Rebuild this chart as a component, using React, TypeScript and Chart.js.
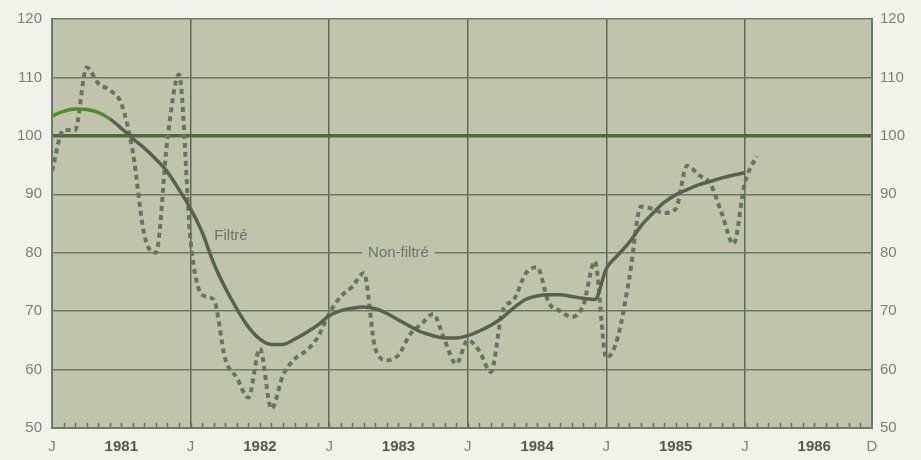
import React, { useEffect, useRef } from "react";
import { Chart, registerables } from "chart.js";

Chart.register(...registerables);

// Months counted from January 1981 (0) to December 1986 (71)
const X_MIN = 0;
const X_MAX = 71;
const START_YEAR = 1981;
const X_TICKS = [0, 6, 12, 18, 24, 30, 36, 42, 48, 54, 60, 66, 71];
const Y_TICKS = [50, 60, 70, 80, 90, 100, 110, 120];

// Non-filtered index, monthly, Jan 1981 .. Feb 1986
const NON_FILTERED = [
  94, 101, 101, 111.7, 109, 107.8, 105.5, 97.2, 83, 80, 99.5, 110.5,
  82, 72.8, 72, 61.8, 58.6, 55.2, 63.6, 53.3, 59, 61.8, 63.2, 65.5,
  69.6, 72.5, 74.2, 76.5, 63.5, 61.6, 62.5, 66, 67.8, 69.5, 65, 61,
  65, 63.2, 59.6, 70, 72, 76.4, 77.5, 71.5, 70, 69, 71, 78.5,
  62, 65.6, 75.8, 87.9, 87.5, 86.8, 87.5, 94.9, 93.3, 91.8, 86.7, 81.5,
  92, 96.5,
];

// Filtered index, monthly, Jan 1981 .. Jan 1986
const FILTERED = [
  103.4, 104.2, 104.6, 104.5, 104.0, 102.9, 101.3, 99.5, 97.9, 96.0, 93.8, 90.8,
  87.5, 83.5, 78.2, 74, 70.4, 67.3, 65.2, 64.3, 64.3, 65.2, 66.3, 67.6,
  69.2, 70.1, 70.5, 70.7, 70.4, 69.6, 68.5, 67.4, 66.4, 65.8, 65.4, 65.4,
  65.8, 66.6, 67.6, 68.9, 70.6, 72.0, 72.6, 72.8, 72.8, 72.5, 72.2, 72.0,
  77.3, 79.6, 81.8, 84.6, 86.7, 88.6, 89.9, 90.8, 91.6, 92.2, 92.8, 93.3,
  93.7,
];

const REFERENCE_LEVEL = 100;
const GREEN_SEGMENT_END = 5; // first months of filtered curve drawn in green

const LABEL_FILTERED = { text: "Filtré", x: 15.5, y: 82.9 };
const LABEL_NON_FILTERED = { text: "Non-filtré", x: 30, y: 80 };

const FONT = "'Liberation Sans', Arial, Helvetica, sans-serif";
const PLOT_BG = "#c1c4ad";
const PAGE_BG = "#f2f2ec";
const GRID = "#6f7a62";
const LABEL_GREY = "#7d7f76";

const toPoints = (arr: number[]) => arr.map((v, i) => ({ x: i, y: v }));

const decoPlugin = {
  id: "deco",
  beforeDraw(chart: any) {
    const { ctx, chartArea } = chart;
    ctx.save();
    ctx.fillStyle = PAGE_BG;
    ctx.fillRect(0, 0, chart.width, chart.height);
    ctx.fillStyle = PLOT_BG;
    ctx.fillRect(chartArea.left, chartArea.top, chartArea.right - chartArea.left, chartArea.bottom - chartArea.top);
    ctx.restore();
  },
  afterDraw(chart: any) {
    const { ctx, chartArea, scales } = chart;
    const xs = scales.x;
    const ys = scales.y;
    ctx.save();
    // monthly minor ticks along the bottom
    ctx.strokeStyle = "#687060";
    ctx.lineWidth = 1.5;
    for (let m = X_MIN + 1; m < X_MAX; m++) {
      const px = Math.round(xs.getPixelForValue(m)) + 0.5;
      ctx.beginPath();
      ctx.moveTo(px, chartArea.bottom);
      ctx.lineTo(px, chartArea.bottom - 5);
      ctx.stroke();
    }
    // series labels
    ctx.font = `15px ${FONT}`;
    ctx.textBaseline = "middle";
    ctx.textAlign = "center";
    const nx = xs.getPixelForValue(LABEL_NON_FILTERED.x);
    const ny = ys.getPixelForValue(LABEL_NON_FILTERED.y);
    const w = ctx.measureText(LABEL_NON_FILTERED.text).width;
    ctx.fillStyle = PLOT_BG;
    ctx.fillRect(nx - w / 2 - 6, ny - 4, w + 12, 8);
    ctx.fillStyle = "#6e7565";
    ctx.fillText(LABEL_NON_FILTERED.text, nx, ny);
    ctx.fillText(
      LABEL_FILTERED.text,
      xs.getPixelForValue(LABEL_FILTERED.x),
      ys.getPixelForValue(LABEL_FILTERED.y)
    );
    ctx.restore();
  },
};

export default function App() {
  const ref = useRef<HTMLCanvasElement | null>(null);

  useEffect(() => {
    if (!ref.current) return;
    const yTickFont = { family: FONT, size: 15 };
    const chart = new Chart(ref.current, {
      type: "line",
      data: {
        datasets: [
          {
            label: "Filtré",
            data: toPoints(FILTERED),
            borderColor: "#5a6150",
            borderWidth: 3.5,
            pointRadius: 0,
            cubicInterpolationMode: "monotone",
            segment: {
              borderColor: (c: any) => (c.p0DataIndex < GREEN_SEGMENT_END ? "#4c8f2b" : undefined),
            },
          } as any,
          {
            label: "Non-filtré",
            data: toPoints(NON_FILTERED),
            borderColor: "#6b735f",
            borderWidth: 4,
            borderDash: [5, 4],
            pointRadius: 0,
            cubicInterpolationMode: "monotone",
          } as any,
        ],
      },
      options: {
        animation: false,
        responsive: false,
        maintainAspectRatio: false,
        layout: { padding: { top: 15, left: 0, right: 0, bottom: 0 } },
        plugins: { legend: { display: false }, tooltip: { enabled: false } },
        scales: {
          x: {
            type: "linear",
            min: X_MIN,
            max: X_MAX,
            afterBuildTicks: (s: any) => {
              s.ticks = X_TICKS.map((v) => ({ value: v }));
            },
            afterFit: (s: any) => {
              s.height = 32;
            },
            ticks: {
              autoSkip: false,
              maxRotation: 0,
              padding: 10,
              callback: (v: any) => {
                const n = Number(v);
                if (n === X_MAX) return "D";
                if (n % 12 === 0) return "J";
                return String(START_YEAR + Math.floor(n / 12));
              },
              font: (c: any) => {
                const v = c.tick ? c.tick.value : 0;
                const isYear = v % 12 === 6;
                return { family: FONT, size: 15, weight: isYear ? "bold" : "normal" } as any;
              },
              color: (c: any) => {
                const v = c.tick ? c.tick.value : 0;
                return v % 12 === 6 ? "#55574f" : LABEL_GREY;
              },
            },
            grid: {
              drawTicks: false,
              lineWidth: 1.5,
              color: (c: any) => {
                const v = c.tick ? c.tick.value : -1;
                return v > X_MIN && v < X_MAX && v % 12 === 0 ? "#62685a" : "rgba(0,0,0,0)";
              },
            },
            border: { display: true, color: GRID, width: 2 },
          },
          y: {
            position: "left",
            min: 50,
            max: 120,
            afterBuildTicks: (s: any) => {
              s.ticks = Y_TICKS.map((v) => ({ value: v }));
            },
            afterFit: (s: any) => {
              s.width = 52;
            },
            ticks: { padding: 10, color: LABEL_GREY, font: yTickFont },
            grid: {
              drawTicks: false,
              color: (c: any) => (c.tick && c.tick.value === REFERENCE_LEVEL ? "#52683d" : GRID),
              lineWidth: (c: any) => (c.tick && c.tick.value === REFERENCE_LEVEL ? 3.5 : 1.5),
            },
            border: { display: true, color: GRID, width: 2 },
          },
          y1: {
            position: "right",
            min: 50,
            max: 120,
            afterBuildTicks: (s: any) => {
              s.ticks = Y_TICKS.map((v) => ({ value: v }));
            },
            afterFit: (s: any) => {
              s.width = 49;
            },
            ticks: { padding: 8, color: LABEL_GREY, font: yTickFont },
            grid: { drawOnChartArea: false, drawTicks: false },
            border: { display: true, color: GRID, width: 2 },
          },
        },
      } as any,
      plugins: [decoPlugin],
    });
    return () => chart.destroy();
  }, []);

  return (
    <div style={{ position: "fixed", left: 0, top: 0, width: 921, height: 460, background: PAGE_BG }}>
      <canvas ref={ref} width={921} height={460} style={{ width: 921, height: 460, display: "block" }} />
    </div>
  );
}
